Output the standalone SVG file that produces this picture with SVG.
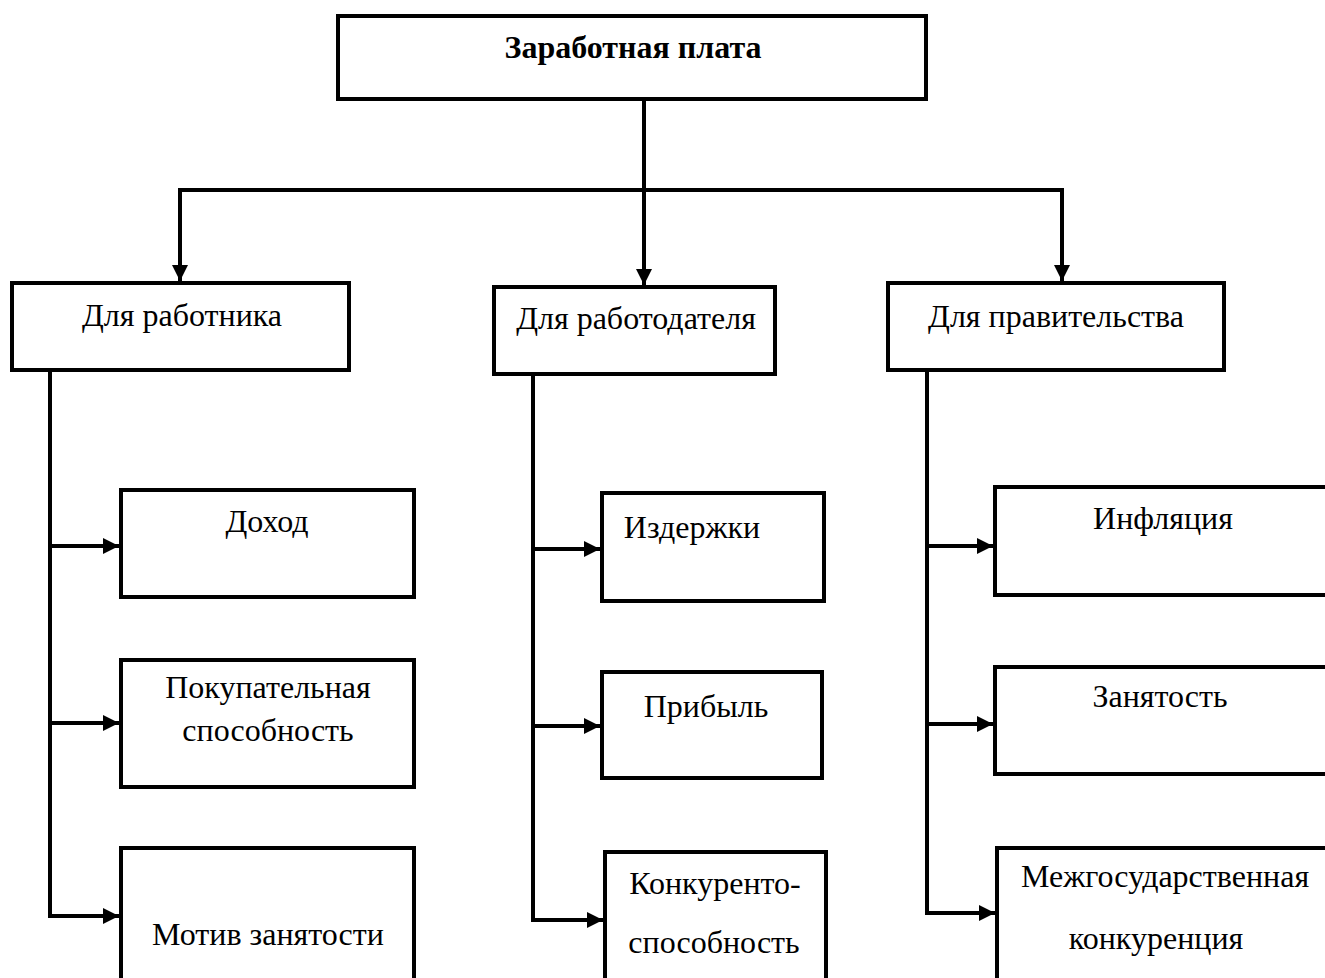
<svg xmlns="http://www.w3.org/2000/svg" width="1325" height="978" viewBox="0 0 1325 978">
<defs>
<marker id="ah" viewBox="0 0 10 10" refX="10" refY="5" markerWidth="4.2" markerHeight="4" orient="auto" markerUnits="strokeWidth">
<path d="M0,0 L10,5 L0,10 Z" fill="#000"/>
</marker>
</defs>
<style>
.box{fill:#fff;stroke:#000;stroke-width:4}
.t{font-family:"Liberation Serif","Times New Roman",serif;font-size:32px;fill:#000;text-anchor:middle}
.b{font-weight:bold;font-size:32px}
.c{fill:none;stroke:#000;stroke-width:4}
</style>
<rect width="1325" height="978" fill="#fff"/>
<g id="connectors">
<path class="c" d="M644,99 V190"/>
<path class="c" d="M178,190 H1064"/>
<path class="c" d="M180,190 V281" marker-end="url(#ah)"/>
<path class="c" d="M644,190 V285" marker-end="url(#ah)"/>
<path class="c" d="M1062,190 V281" marker-end="url(#ah)"/>
<path class="c" d="M50,370 V918"/>
<path class="c" d="M48,546 H119" marker-end="url(#ah)"/>
<path class="c" d="M48,723 H119" marker-end="url(#ah)"/>
<path class="c" d="M48,916 H119" marker-end="url(#ah)"/>
<path class="c" d="M533,374 V922"/>
<path class="c" d="M531,549 H600" marker-end="url(#ah)"/>
<path class="c" d="M531,726 H600" marker-end="url(#ah)"/>
<path class="c" d="M531,920 H603" marker-end="url(#ah)"/>
<path class="c" d="M927,370 V915"/>
<path class="c" d="M925,546 H993" marker-end="url(#ah)"/>
<path class="c" d="M925,724 H993" marker-end="url(#ah)"/>
<path class="c" d="M925,913 H995" marker-end="url(#ah)"/>
</g>
<g id="root"><rect class="box" x="338" y="16" width="588" height="83"/><text class="t b" x="633" y="58">Заработная плата</text></g>
<g id="worker"><rect class="box" x="12" y="283" width="337" height="87"/><text class="t" x="182" y="326">Для работника</text></g>
<g id="employer"><rect class="box" x="494" y="287" width="281" height="87"/><text class="t" x="636" y="329">Для работодателя</text></g>
<g id="government"><rect class="box" x="888" y="283" width="336" height="87"/><text class="t" x="1056" y="327">Для правительства</text></g>
<g id="income"><rect class="box" x="121" y="490" width="293" height="107"/><text class="t" x="267" y="532">Доход</text></g>
<g id="purchasing"><rect class="box" x="121" y="660" width="293" height="127"/><text class="t" x="268" y="698">Покупательная</text><text class="t" x="268" y="741">способность</text></g>
<g id="motive"><rect class="box" x="121" y="848" width="293" height="134"/><text class="t" x="268" y="945">Мотив занятости</text></g>
<g id="costs"><rect class="box" x="602" y="493" width="222" height="108"/><text class="t" x="692" y="538">Издержки</text></g>
<g id="profit"><rect class="box" x="602" y="672" width="220" height="106"/><text class="t" x="706" y="717">Прибыль</text></g>
<g id="competitiveness"><rect class="box" x="605" y="852" width="221" height="130"/><text class="t" x="715" y="894">Конкуренто-</text><text class="t" x="714" y="953">способность</text></g>
<g id="inflation"><rect class="box" x="995" y="487" width="340" height="108"/><text class="t" x="1163" y="529">Инфляция</text></g>
<g id="employment"><rect class="box" x="995" y="667" width="340" height="107"/><text class="t" x="1160" y="707">Занятость</text></g>
<g id="interstate"><rect class="box" x="997" y="848" width="340" height="134"/><text class="t" x="1165" y="887">Межгосударственная</text><text class="t" x="1156" y="949">конкуренция</text></g>
</svg>
